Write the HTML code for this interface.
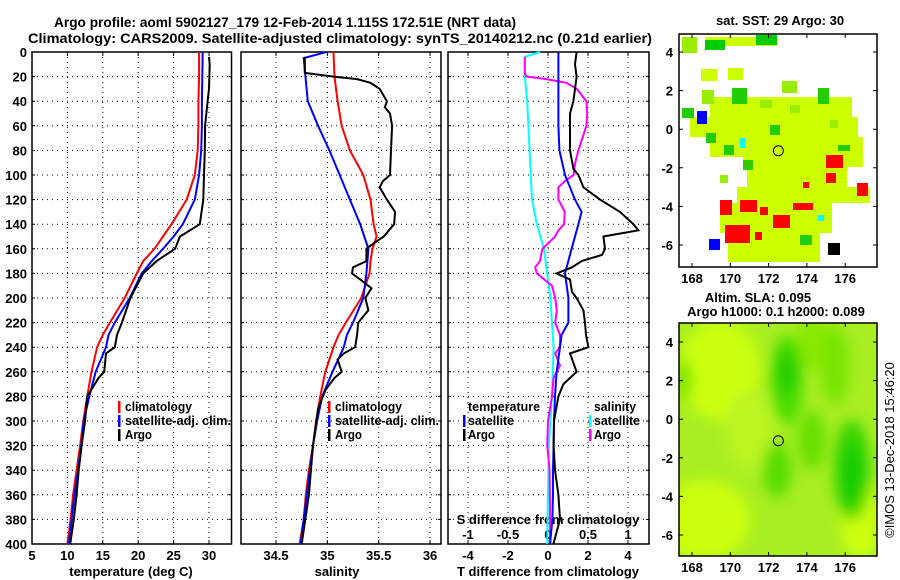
<!DOCTYPE html>
<html><head><meta charset="utf-8"><style>
body{margin:0;background:#fff}
svg{display:block;font-family:"Liberation Sans",sans-serif;font-weight:bold}
</style></head><body>
<svg id="c" width="900" height="580" viewBox="0 0 900 580" xmlns="http://www.w3.org/2000/svg">
<text x="54" y="27" font-size="14" textLength="462" lengthAdjust="spacingAndGlyphs">Argo profile: aoml 5902127_179 12-Feb-2014 1.115S 172.51E (NRT data)</text>
<text x="28" y="43" font-size="14" textLength="624" lengthAdjust="spacingAndGlyphs">Climatology: CARS2009. Satellite-adjusted climatology: synTS_20140212.nc (0.21d earlier)</text>
<g id="g"></g>
</svg>
<script>
// depth levels (m)
const depthClim=[0,20,40,60,80,100,120,140,150,160,170,180,200,220,230,240,260,280,300,320,340,360,380,400];
const tempClim=[28.6,28.6,28.5,28.5,28.4,28.0,26.85,24.7,23.5,22.3,20.7,19.8,18.1,16.0,15.0,14.2,13.4,12.8,12.25,11.8,11.3,10.8,10.45,10.0];
const tempSat=[29.1,29.1,29.0,29.0,28.9,28.6,28.0,26.3,25.0,23.5,21.9,20.5,18.8,16.7,15.8,15.45,14.0,13.1,12.3,11.95,11.5,11.0,10.6,10.2];
const salClim=[35.06,35.07,35.1,35.14,35.22,35.35,35.42,35.45,35.48,35.44,35.42,35.41,35.33,35.18,35.11,35.06,34.98,34.93,34.89,34.86,34.82,34.79,34.77,34.73];
const salSat=[34.99,34.77,34.81,34.91,35.02,35.12,35.22,35.32,35.36,35.40,35.39,35.38,35.35,35.25,35.19,35.16,35.05,34.95,34.9,34.86,34.83,34.8,34.77,34.74];
const salSatDepth=[0,5,40,60,80,100,120,140,150,160,170,180,200,220,230,240,260,280,300,320,340,360,380,400];
const depthArgoT=[4,10,30,40,60,80,100,120,140,150,160,170,180,190,200,220,230,240,245,260,265,280,300,320,340,360,380,400];
const tempArgo=[30.0,30.1,30.0,29.8,29.45,29.4,29.3,29.2,28.7,25.9,25.2,22.6,20.7,19.8,18.9,17.7,17.0,16.7,15.45,15.2,14.4,12.8,12.5,12.0,11.6,11.3,10.9,10.4];
const depthArgoS=[4,17,20,22,25,30,40,45,50,60,80,100,105,110,120,130,140,145,150,155,160,170,175,180,185,192,200,210,220,230,240,245,250,260,265,275,290,320,360,400];
const salArgo=[34.78,34.78,35.06,35.29,35.42,35.51,35.58,35.56,35.61,35.63,35.62,35.61,35.54,35.51,35.58,35.66,35.65,35.6,35.55,35.46,35.38,35.38,35.25,35.24,35.32,35.43,35.37,35.4,35.3,35.29,35.27,35.16,35.1,35.14,35.07,34.98,34.91,34.86,34.82,34.75];
// differences
const depthDiff=[0,20,40,60,80,100,120,130,140,160,180,200,220,230,240,260,280,300,320,340,360,380,400];
const tDiffSat=[0.52,0.52,0.52,0.52,0.57,0.85,1.35,1.68,1.52,1.18,0.85,1.02,1.02,0.68,0.6,0.43,0.35,0.3,0.28,0.25,0.25,0.22,0.1];
const depthTDA=[0,10,20,30,40,50,80,95,100,110,120,130,140,145,150,160,165,170,175,180,185,195,200,210,220,230,240,245,260,270,280,300,320,340,360,380,400];
const tDiffArgo=[1.43,1.35,1.43,1.35,1.27,1.1,1.1,1.27,1.52,1.77,2.6,3.6,4.27,4.52,2.77,2.85,2.7,1.68,1.2,0.43,1.1,1.2,1.43,1.77,1.85,1.9,2.02,1.1,1.43,0.77,0.52,0.3,0.28,0.35,0.52,0.6,0.27];
const depthSDS=[0,4,20,40,80,120,140,160,180,200,220,240,280,320,360,400];
const sDiffSat=[-0.1,-0.29,-0.29,-0.26,-0.23,-0.2,-0.14,-0.05,-0.01,0.03,0.05,0.07,0.05,0.01,0,-0.01];
const depthSDA=[4,17,20,22,25,30,40,50,60,80,90,100,105,110,120,130,140,145,150,160,170,175,180,190,200,210,220,230,240,245,255,265,280,300,320,340,400];
const sDiffArgo=[-0.29,-0.29,-0.27,-0.02,0.23,0.36,0.48,0.49,0.48,0.38,0.34,0.32,0.21,0.13,0.13,0.21,0.2,0.13,0.09,-0.07,-0.1,-0.16,-0.14,0.05,0.09,0.11,0.09,0.15,0.15,0.09,0.15,0.07,0.05,0,-0.01,0.02,0.03];
const depthTicks=[0,20,40,60,80,100,120,140,160,180,200,220,240,260,280,300,320,340,360,380,400];
const tempTicks=[5,10,15,20,25,30];
const salTicks=[34.5,35,35.5,36];
const tDiffTicks=[-4,-2,0,2,4];
const sDiffTicks=[-1,-0.5,0,0.5,1];
const sDiffTickLabels=["-1","-0.5","0","0.5","1"];

const NS="http://www.w3.org/2000/svg";
const G=document.getElementById('g');
function mk(t,a,p){const e=document.createElementNS(NS,t);for(const k in a)e.setAttribute(k,a[k]);(p||G).appendChild(e);return e;}
const yD=d=>52+d*1.23;
const xT=v=>32+(v-5)*7.08;
const xS=v=>276+(v-34.5)*102.7;
const xTD=v=>548+v*20;
const xSD=v=>548+v*80;
const TOP=52,BOT=544;

function panel(x0,x1,name,gridX,showDepth){
  for(const d of depthTicks){
    if(d>0&&d<400){const l=mk('line',{x1:x0,x2:x1,y1:yD(d),y2:yD(d),stroke:'#000','stroke-dasharray':'1 4','stroke-width':1});
    }
    const tk=mk('path',{d:`M${x0} ${yD(d)}h3M${x1} ${yD(d)}h-3`,stroke:'#000'});
    
    if(showDepth){const t=mk('text',{x:27,y:yD(d)+5,'font-size':13,'text-anchor':'end'});t.textContent=d;
      }
  }
  for(const gx of gridX){const l=mk('line',{x1:gx,x2:gx,y1:TOP,y2:BOT,stroke:'#000','stroke-dasharray':'1 4'});
    
    const tk=mk('path',{d:`M${gx} ${TOP}v4M${gx} ${BOT}v-4`,stroke:'#000'});
    }
  const r=mk('rect',{x:x0,y:TOP,width:x1-x0,height:BOT-TOP,fill:'none',stroke:'#000','stroke-width':1.5});
  
}
function line(xs,ds,sx,col,name){
  const pts=xs.map((v,i)=>sx(v).toFixed(1)+','+yD(ds[i]).toFixed(1)).join(' ');
  const p=mk('polyline',{points:pts,fill:'none',stroke:col,'stroke-width':2});
  
}
function txt(x,y,s,size,name,anchor){const t=mk('text',{x:x,y:y,'font-size':size||13,'text-anchor':anchor||'start'});t.textContent=s;
  return t;}
function legMark(x,y,col,name){const r=mk('rect',{x:x,y:y-10,width:2.5,height:12,fill:col});
  }
function legTxt(x,y,s,name,w){const t=txt(x,y,s,13,name);if(w){t.setAttribute('textLength',w);t.setAttribute('lengthAdjust','spacingAndGlyphs');}return t;}

// panel 1
panel(32,231.5,'temp-panel',tempTicks.slice(1).map(xT),true);
tempTicks.forEach(v=>txt(xT(v),560,v,13,'temp-tick-label','middle'));
txt(131,576,'temperature (deg C)',13,'temp-x-axis-title','middle');
line(tempClim,depthClim,xT,'#f00','temp-climatology-line');
line(tempSat,salSatDepth,xT,'#00f','temp-satellite-line');
line(tempArgo,depthArgoT,xT,'#000','temp-argo-line');
legMark(118,411,'#f00','legend-climatology-mark');legTxt(125,411,'climatology','legend-climatology',67);
legMark(118,425,'#00f','legend-satellite-mark');legTxt(125,425,'satellite-adj. clim.','legend-satellite',106);
legMark(118,439,'#000','legend-argo-mark');legTxt(125,439,'Argo','legend-argo',27);

// panel 2
panel(241,441,'sal-panel',salTicks.map(xS),false);
salTicks.forEach(v=>txt(xS(v),560,v,13,'sal-tick-label','middle'));
txt(337,576,'salinity',13,'sal-x-axis-title','middle');
line(salClim,depthClim,xS,'#f00','sal-climatology-line');
line(salSat,salSatDepth,xS,'#00f','sal-satellite-line');
line(salArgo,depthArgoS,xS,'#000','sal-argo-line');
legMark(328,411,'#f00','legend2-climatology-mark');legTxt(335,411,'climatology','legend2-climatology',67);
legMark(328,425,'#00f','legend2-satellite-mark');legTxt(335,425,'satellite-adj. clim.','legend2-satellite',104);
legMark(328,439,'#000','legend2-argo-mark');legTxt(335,439,'Argo','legend2-argo',27);

// panel 3
panel(448,649,'diff-panel',tDiffTicks.map(xTD),false);
tDiffTicks.forEach(v=>txt(xTD(v),560,v,13,'tdiff-tick-label','middle'));
sDiffTicks.forEach((v,i)=>txt(xSD(v),539,sDiffTickLabels[i],13,'sdiff-tick-label','middle'));
txt(548,576,'T difference from climatology',13,'tdiff-x-axis-title','middle');
txt(548,524,'S difference from climatology',13,'sdiff-axis-title','middle');
line(sDiffSat,depthSDS,xSD,'#0ff','sdiff-satellite-line');
line(sDiffArgo,depthSDA,xSD,'#f0f','sdiff-argo-line');
line(tDiffSat,depthDiff,xTD,'#00f','tdiff-satellite-line');
line(tDiffArgo,depthTDA,xTD,'#000','tdiff-argo-line');
legTxt(468,411,'temperature','legend3-temperature',72);
legMark(463,425,'#00f','legend3-tsat-mark');legTxt(468,425,'satellite','legend3-tsat',46);
legMark(463,439,'#000','legend3-targo-mark');legTxt(468,439,'Argo','legend3-targo',27);
legTxt(594,411,'salinity','legend3-salinity',42);
legMark(589,425,'#0ff','legend3-ssat-mark');legTxt(594,425,'satellite','legend3-ssat',46);
legMark(589,439,'#f0f','legend3-sargo-mark');legTxt(594,439,'Argo','legend3-sargo',27);

// maps
const mapLon=[168,170,172,174,176];
const mapLat=[4,2,0,-2,-4,-6];
const mx=lon=>692+(lon-168)*19.15;
function mapFrame(top,bot,y4,name){
  const yL=lat=>y4+(4-lat)*19.3;
  mapLon.forEach(l=>{const tk=mk('path',{d:`M${mx(l)} ${top}v4M${mx(l)} ${bot}v-4`,stroke:'#000'});
    txt(mx(l),bot+16,l,13,name+'-lon-label','middle');});
  mapLat.forEach(l=>{const tk=mk('path',{d:`M679 ${yL(l)}h4M877 ${yL(l)}h-4`,stroke:'#000'});
    txt(673,yL(l)+5,l,13,name+'-lat-label','end');});
  const r=mk('rect',{x:679,y:top,width:198,height:bot-top,fill:'none',stroke:'#000','stroke-width':1.5});
  
  const c=mk('circle',{cx:mx(172.51),cy:yL(-1.115),r:5,fill:'none',stroke:'#000'});
  
}
// SST map cells [x,y,w,h,color] (screen px)
const sstCells=[
[710,97,142,20,'#ccff00'],[690,117,168,20,'#ccff00'],[710,137,153,20,'#ccff00'],[743,157,120,10,'#ccff00'],
[747,167,100,20,'#ccff00'],[737,187,133,16,'#ccff00'],[720,203,112,30,'#ccff00'],[728,233,92,29,'#ccff00'],
[682,37,15,16,'#99ee00'],[705,37,72,9,'#ccff00'],[756,35,21,10,'#00cc00'],[705,40,20,10,'#00cc00'],[701,69,16,12,'#ccff00'],[728,68,15,12,'#ccff00'],
[782,81,15,12,'#99ee00'],[732,88,15,16,'#22cc00'],[818,88,11,16,'#22cc00'],[682,108,12,10,'#22cc00'],[697,111,10,13,'#0000ff'],
[706,133,10,10,'#22cc00'],[724,145,10,10,'#22cc00'],[743,160,10,10,'#33cc00'],[838,145,12,6,'#22cc00'],[702,90,12,14,'#99ee00'],
[760,100,12,8,'#99ee00'],[790,105,10,8,'#99ee00'],[830,120,8,8,'#99ee00'],[720,175,8,8,'#99ee00'],[770,125,10,10,'#22cc00'],
[826,155,17,13,'#f00'],[857,183,11,13,'#f00'],[720,200,12,15,'#f00'],[740,200,17,12,'#f00'],[793,203,20,7,'#f00'],[773,215,17,13,'#f00'],
[725,225,25,18,'#f00'],[755,232,7,8,'#f00'],[760,207,8,8,'#f00'],[803,182,6,6,'#f00'],[826,173,10,10,'#f00'],
[709,239,11,11,'#0000ff'],[828,243,12,12,'#000'],[800,235,12,10,'#22cc00'],[740,138,5,10,'#00ffff'],[818,215,6,6,'#00ffff']
];
sstCells.forEach(c=>{const r=mk('rect',{x:c[0],y:c[1],width:c[2],height:c[3],fill:c[4]});});
txt(780,25,'sat. SST: 29 Argo: 30',13,'sst-map-title','middle');
mapFrame(34,267,52,'sst-map');

// SLA map
const defs=mk('defs',{});
const f=mk('filter',{id:'bl',x:'-50%',y:'-50%',width:'200%',height:'200%'},defs);mk('feGaussianBlur',{stdDeviation:7},f);
const cp=mk('clipPath',{id:'cl'},defs);mk('rect',{x:679,y:323,width:198,height:233},cp);
const sg=mk('g',{'clip-path':'url(#cl)'});

mk('rect',{x:679,y:323,width:198,height:233,fill:'#a8ee22'},sg);
const blobs=[[720,370,40,50,'#ccff11'],[705,520,45,40,'#ccff11'],[860,520,20,40,'#ccff11'],[750,430,25,40,'#bbf522'],
[787,380,16,45,'#44dd00'],[787,372,10,22,'#22cc00'],[852,470,18,50,'#33d400'],[852,475,10,30,'#11cc00'],[777,470,14,28,'#55dd00'],
[812,440,14,30,'#66e000'],[835,365,14,40,'#77e400'],[684,380,8,20,'#77e400'],[812,340,14,30,'#88e800']];
const gb=mk('g',{filter:'url(#bl)'},sg);
blobs.forEach(b=>{const e=mk('ellipse',{cx:b[0],cy:b[1],rx:b[2],ry:b[3],fill:b[4]},gb);});
txt(758,302,'Altim. SLA: 0.095',13,'sla-map-title','middle');
txt(776,316,'Argo h1000: 0.1 h2000: 0.089',13,'sla-map-subtitle','middle');
mapFrame(323,556,342,'sla-map');
const v=txt(0,0,'©IMOS 13-Dec-2018 15:46:20',13,'timestamp-label','middle');
v.setAttribute('font-weight','normal');v.setAttribute('transform','translate(894,450) rotate(-90)');
</script>
</body></html>
